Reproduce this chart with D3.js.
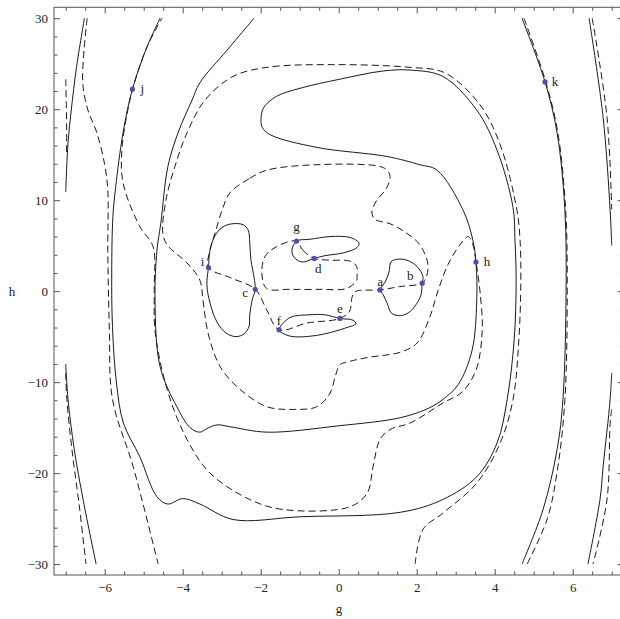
<!DOCTYPE html>
<html>
<head>
<meta charset="utf-8">
<script src="https://cdn.jsdelivr.net/npm/d3@7"></script>
<style>
  body { margin: 0; background: #fff; }
  svg { display: block; }
  text { font-family: "Liberation Serif", "DejaVu Serif", serif; fill: #222; }
</style>
</head>
<body>
<svg id="chart" width="620" height="619"></svg>
<script>
// ---- data: contour lines as [g, h] pairs ----
const xTicks = [-6, -4, -2, 0, 2, 4, 6];
const yTicks = [-30, -20, -10, 0, 10, 20, 30];

// solid contours
const solidFarLeftTop = [[-7.0, 10.9], [-6.94, 16.3], [-6.86, 19.8], [-6.72, 24.7], [-6.52, 30]];
const solidFarLeftBottom = [[-7.0, -8.0], [-6.94, -11.9], [-6.78, -17.4], [-6.55, -23.0], [-6.22, -30]];
const solidSpiral = [
  [-4.58, 30], [-4.92, 26.8], [-5.29, 22.2], [-5.53, 17.4], [-5.72, 11.4], [-5.79, 8.2], [-5.82, 2],
  [-5.80, -4], [-5.70, -10.0], [-5.52, -14.5], [-5.10, -18.2], [-4.66, -22.6], [-4.38, -23.4],
  [-4.0, -22.8], [-3.56, -23.4], [-2.71, -25.1], [-0.99, -24.8], [1.59, -24.3], [2.67, -22.9],
  [3.54, -20.4], [4.06, -16.7], [4.32, -11.9], [4.50, -5.3], [4.55, 1.2], [4.52, 5.6], [4.47, 9.2],
  [4.06, 15.5], [3.54, 19.9], [2.67, 23.6], [1.83, 24.3], [1.14, 24.2], [0.03, 23.3], [-0.99, 22.3],
  [-1.6, 21.4], [-1.92, 20.2], [-1.99, 19.1], [-1.96, 18.0], [-1.76, 17.2], [-0.56, 15.8], [1.24, 14.8],
  [2.08, 13.9], [2.52, 13.3], [3.19, 8.9], [3.44, 5.6], [3.52, 3.2], [3.54, -1.0], [3.42, -6.5],
  [3.06, -10.3], [2.67, -11.9], [2.34, -12.8], [1.59, -13.9], [0, -14.8], [-1.84, -15.5], [-2.79, -14.9],
  [-3.12, -14.7], [-3.38, -15.1], [-3.56, -15.5], [-3.81, -15.0], [-4.15, -12.7], [-4.58, -8.3],
  [-4.71, -1.0], [-4.66, 4.5], [-4.56, 7.5], [-4.38, 13.7], [-4.12, 17.4], [-3.76, 21.0], [-3.56, 22.9],
  [-2.86, 26.5], [-2.17, 30]
];
const solidK = [[4.70, 30], [5.29, 23.0], [5.60, 17.4], [5.80, 8.9], [5.83, 0], [5.75, -11.9], [5.60, -17.4], [5.24, -24.0], [4.70, -30]];
const solidFarRightTop = [[6.42, 30], [6.78, 19.1], [6.96, 8.9], [7.0, 5]];
const solidFarRightBottom = [[7.0, -9], [6.96, -11.9], [6.78, -19.3], [6.70, -22.9], [6.39, -30]];
// small closed solid loops
const loopIC = [
  [-3.34, 2.6], [-3.30, 4.5], [-3.17, 6.1], [-2.99, 7.0], [-2.74, 7.4], [-2.45, 7.3], [-2.32, 6.7],
  [-2.28, 5.3], [-2.25, 3.4], [-2.17, 1.5], [-2.14, 0.2], [-2.22, -1.0], [-2.28, -2.6], [-2.30, -3.9],
  [-2.43, -4.7], [-2.63, -5.0], [-2.89, -4.6], [-3.12, -3.4], [-3.30, -1.3], [-3.38, 0.7]
];
const loopGD = [
  [-1.08, 5.5], [-0.74, 5.7], [-0.22, 6.0], [0.29, 5.9], [0.52, 5.3], [0.47, 4.8], [0.11, 4.2],
  [-0.35, 3.9], [-0.63, 3.6], [-0.94, 3.2], [-1.14, 3.7], [-1.20, 4.5]
];
const loopFE = [
  [-1.53, -4.25], [-1.25, -2.9], [-0.74, -2.6], [-0.35, -2.6], [0.03, -3.0], [0.37, -3.2], [0.44, -3.6],
  [0.21, -4.0], [-0.48, -4.8], [-1.17, -5.0], [-1.45, -4.6]
];
const loopAB = [
  [1.06, 0.14], [1.19, 1.0], [1.29, 2.1], [1.34, 3.2], [1.49, 3.5], [1.75, 3.4], [2.01, 2.7], [2.16, 1.6],
  [2.14, 0.88], [2.11, -0.4], [1.98, -1.5], [1.78, -2.4], [1.55, -2.7], [1.35, -2.4], [1.24, -1.3], [1.14, -0.4]
];

// dashed contours
const dashFarLeftTop = [[-7.0, 23.3], [-6.985, 20.5], [-6.975, 17.5], [-6.98, 15.0]];
const dashFarLeftBottom = [[-7.0, -9.0], [-6.97, -11.9], [-6.84, -17.4], [-6.64, -24.0], [-6.48, -30]];
const dashLeft = [
  [-6.45, 30], [-6.53, 26.5], [-6.56, 22.7], [-6.43, 19.9], [-6.20, 17.4], [-6.0, 13.9], [-5.92, 11.1],
  [-5.92, 4.5], [-5.88, -4.3], [-5.80, -11.9], [-5.27, -19.3], [-4.63, -30]
];
const dashSpiral = [
  [1.96, -30], [2.16, -26.2], [2.67, -24.4], [3.54, -21.1], [4.14, -16.7], [4.47, -11.9], [4.62, -5.3],
  [4.67, 1.2], [4.65, 5.6], [4.57, 8.9], [4.14, 16.1], [3.62, 20.5], [2.72, 24.0], [1.83, 24.6],
  [-0.15, 24.9], [-1.84, 24.6], [-2.71, 23.6], [-3.43, 21.0], [-3.89, 17.4], [-4.20, 13.7], [-4.43, 10.0],
  [-4.51, 6.4], [-4.40, 5.1], [-3.89, 3.1], [-3.56, 1.2], [-3.48, -1.0], [-3.35, -4.6], [-3.04, -8.3],
  [-2.53, -10.8], [-1.84, -12.7], [-1.17, -13.0], [-0.56, -12.7], [-0.22, -11.2], [-0.09, -9.4],
  [0.03, -8.1], [0.21, -7.8], [0.73, -7.3], [1.59, -6.7], [2.01, -5.7], [2.34, -2.8], [2.55, 0.1],
  [2.80, 2.9], [3.11, 5.1], [3.32, 6.0], [3.44, 5.1], [3.52, 3.2], [3.62, 0.1], [3.68, -4.3], [3.52, -8.7],
  [3.16, -11.1], [2.67, -12.3], [1.83, -14.5], [1.32, -15.2], [1.06, -16.3], [0.88, -19.3], [0.73, -22.2],
  [0.29, -23.7], [-1.43, -24.0], [-2.28, -22.9], [-3.30, -20.0], [-3.89, -16.3], [-4.40, -10.8],
  [-4.71, -4.3], [-4.73, 0.1], [-4.76, 4.9], [-5.10, 7.1], [-5.53, 11.9], [-5.56, 15.5], [-5.43, 19.4],
  [-5.27, 22.4], [-4.92, 26.8], [-4.53, 30]
];
const dashK = [[4.75, 30], [5.31, 23], [5.62, 17.4], [5.82, 8.9], [5.86, 0], [5.80, -11.9], [5.62, -19.3], [5.35, -25], [4.83, -30]];
const dashFarRightTop = [[6.50, 30], [6.88, 19.1], [7.0, 9]];
const dashFarRightBottom = [[7.0, -13], [6.96, -14.5], [6.88, -22.9], [6.52, -30]];
// closed dashed loops
const dashMiddleLoop = [
  [-2.79, 10.8], [-2.28, 12.4], [-1.84, 13.3], [-0.56, 13.9], [1.06, 13.7], [1.26, 13.2], [1.32, 12.4],
  [1.19, 11.1], [0.98, 10.0], [0.85, 8.7], [0.93, 7.9], [1.32, 7.4], [1.70, 6.5], [2.08, 5.1], [2.29, 2.9],
  [2.24, 1.5], [2.14, 0.88], [1.57, 0.5], [1.06, 0.14], [0.42, -0.05], [0.34, -0.7], [0.28, -2.2],
  [0.03, -3.0], [-0.81, -3.5], [-1.53, -4.25], [-1.84, -2.1], [-2.14, 0.2], [-2.79, 1.5], [-3.34, 2.6],
  [-3.30, 4.5], [-3.17, 6.4], [-2.99, 8.9]
];
const dashInnerLoop = [
  [-1.08, 5.5], [-0.92, 4.5], [-0.63, 3.6], [-0.22, 3.4], [0.29, 3.3], [0.46, 2.7], [0.47, 1.8],
  [0.46, 1.2], [0.21, 0.3], [-0.48, 0.2], [-1.25, 0.2], [-1.85, 0.3], [-1.97, 2.0], [-1.89, 3.8], [-1.59, 4.9]
];

// marked roots
const rootNames = ["a", "b", "c", "d", "e", "f", "g", "h", "i", "j", "k"];
const rootG = [1.06, 2.14, -2.14, -0.63, 0.03, -1.53, -1.08, 3.52, -3.34, -5.29, 5.29];
const rootH = [0.14, 0.88, 0.2, 3.6, -3.0, -4.25, 5.5, 3.2, 2.6, 22.2, 23.0];

// ---- layout ----
const svg = d3.select("#chart");
const x = d3.scaleLinear().domain([-7.3, 7.3]).range([54, 623.4]);
const y = d3.scaleLinear().domain([-31.2, 31.2]).range([575, 7.3]);

const openLine = d3.line().x(d => x(d[0])).y(d => y(d[1])).curve(d3.curveCatmullRom.alpha(0.5));
const closedLine = d3.line().x(d => x(d[0])).y(d => y(d[1])).curve(d3.curveCatmullRomClosed.alpha(0.5));

const plot = svg.append("g");

function drawCurve(pts, closed, dashed) {
  plot.append("path")
    .attr("d", (closed ? closedLine : openLine)(pts))
    .attr("fill", "none")
    .attr("stroke", "#1a1a1a")
    .attr("stroke-width", 1)
    .attr("stroke-dasharray", dashed ? "7,4" : null);
}

[solidFarLeftTop, solidFarLeftBottom, solidSpiral, solidK, solidFarRightTop, solidFarRightBottom]
  .forEach(c => drawCurve(c, false, false));
[loopIC, loopGD, loopFE, loopAB].forEach(c => drawCurve(c, true, false));
[dashFarLeftTop, dashFarLeftBottom, dashLeft, dashSpiral, dashK, dashFarRightTop, dashFarRightBottom]
  .forEach(c => drawCurve(c, false, true));
[dashMiddleLoop, dashInnerLoop].forEach(c => drawCurve(c, true, true));

// ---- root points with letters ----
const labelOffset = {
  a: [0, -7], b: [-12, -6], c: [-10, 5], d: [4, 12], e: [0, -8], f: [0, -8],
  g: [0, -13], h: [11, 1], i: [-6, -4], j: [10, 1], k: [10, 1]
};
const roots = rootNames.map((n, i) => ({ name: n, g: rootG[i], h: rootH[i] }));

plot.selectAll("circle.root").data(roots).enter().append("circle")
  .attr("class", "root")
  .attr("cx", d => x(d.g)).attr("cy", d => y(d.h)).attr("r", 2.6)
  .attr("fill", "#4f4fb3");

plot.selectAll("text.root").data(roots).enter().append("text")
  .attr("class", "root")
  .attr("x", d => x(d.g) + labelOffset[d.name][0])
  .attr("y", d => y(d.h) + labelOffset[d.name][1])
  .attr("text-anchor", "middle").attr("dominant-baseline", "middle")
  .attr("font-size", 13)
  .text(d => d.name);

// ---- frame with inward ticks on all sides ----
const xMinor = d3.range(-7, 7.01, 0.5).filter(v => Math.abs(v % 2) > 1e-6);
const yMinor = d3.range(-30, 30.01, 2).filter(v => Math.abs(v % 10) > 1e-6);
const fmt = v => String(v).replace("-", "\u2212");

function axis(gen, scale, tr, major, minor, labels) {
  const a = svg.append("g").attr("transform", tr);
  a.call(gen(scale).tickValues(major).tickSize(-6).tickPadding(labels ? (gen === d3.axisBottom ? 8 : 6) : 0)
    .tickFormat(labels ? fmt : ""));
  a.append("g").call(gen(scale).tickValues(minor).tickSize(-3.5).tickFormat(""));
  a.selectAll(".domain").remove();
  a.selectAll("line").attr("stroke", "#555");
  a.selectAll("text").attr("font-size", 13).attr("font-family", "Liberation Serif, serif").attr("fill", "#222");
}

axis(d3.axisBottom, x, `translate(0,${y.range()[0]})`, xTicks, xMinor, true);
axis(d3.axisTop, x, `translate(0,${y.range()[1]})`, xTicks, xMinor, false);
axis(d3.axisLeft, y, `translate(${x.range()[0]},0)`, yTicks, yMinor, true);
axis(d3.axisRight, y, `translate(${x.range()[1]},0)`, yTicks, yMinor, false);

svg.append("rect")
  .attr("x", x.range()[0]).attr("y", y.range()[1])
  .attr("width", x.range()[1] - x.range()[0]).attr("height", y.range()[0] - y.range()[1])
  .attr("fill", "none").attr("stroke", "#555").attr("stroke-width", 1);

// axis titles
svg.append("text").attr("x", 339).attr("y", 613).attr("text-anchor", "middle")
  .attr("font-size", 13).text("g");
svg.append("text").attr("x", 12).attr("y", 296).attr("text-anchor", "middle")
  .attr("font-size", 13).text("h");
</script>
</body>
</html>
